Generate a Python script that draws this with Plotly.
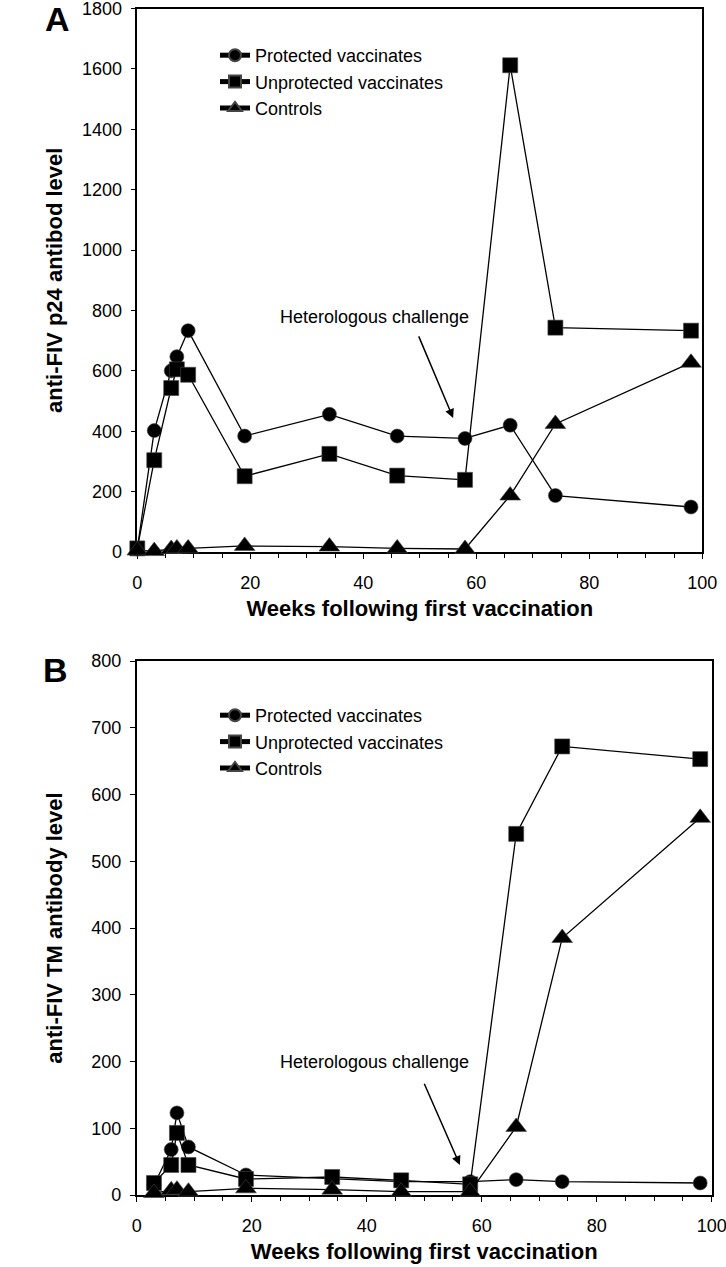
import plotly.graph_objects as go

# ---------------- data ----------------
weeks_a = [0, 3, 6, 7, 9, 19, 34, 46, 58, 66, 74, 98]
protected_a = [10, 402, 600, 647, 733, 384, 456, 384, 376, 420, 187, 149]
unprotected_a = [12, 304, 543, 605, 587, 251, 325, 253, 239, 1612, 743, 733]
controls_a = [5, 3, 10, 12, 12, 20, 18, 12, 10, 187, 424, 627]

weeks_b = [3, 6, 7, 9, 19, 34, 46, 58, 66, 74, 98]
protected_b = [15, 68, 123, 72, 30, 25, 20, 20, 23, 20, 18]
unprotected_b = [18, 45, 93, 45, 24, 27, 22, 16, 541, 672, 653]
controls_b = [3, 7, 8, 5, 10, 8, 5, 5, 102, 385, 565]

series_names = ["Protected vaccinates", "Unprotected vaccinates", "Controls"]
symbols = ["circle", "square", "triangle-up"]
sizes = [14, 15, 18]

x_ticks = [0, 20, 40, 60, 80, 100]
ya_ticks = list(range(0, 1801, 200))
yb_ticks = list(range(0, 801, 100))

# ---------------- layout helpers ----------------
W, H = 726, 1267
FONT = "Liberation Sans, Arial, sans-serif"


def fx(p):
    return p / W


def fy(p):
    return 1 - p / H


fig = go.Figure()

panels = [
    (weeks_a, [protected_a, unprotected_a, controls_a], "x", "y", "legend"),
    (weeks_b, [protected_b, unprotected_b, controls_b], "x2", "y2", "legend2"),
]
for weeks, vals, xr, yr, lg in panels:
    for name, sym, sz, v in zip(series_names, symbols, sizes, vals):
        fig.add_trace(go.Scatter(
            x=weeks, y=v, name=name, mode="lines+markers",
            xaxis=xr, yaxis=yr, legend=lg, cliponaxis=False,
            line=dict(color="black", width=1.3),
            marker=dict(symbol=sym, size=sz, color="black",
                        line=dict(color="#444", width=0.6)),
        ))

axis_common = dict(
    showline=True, linecolor="black", linewidth=1.5, mirror=True,
    ticks="outside", ticklen=5, tickcolor="black", tickwidth=1.3,
    showgrid=False, zeroline=False, layer="below traces", automargin=False,
    ticklabeloverflow="allow",
    tickfont=dict(family=FONT, size=18, color="black"),
)
xa_common = dict(axis_common, range=[0, 100], tickvals=x_ticks,
                 minor=dict(dtick=5, ticks="outside", ticklen=4,
                            tickcolor="black", tickwidth=1.2),
                 ticklabelstandoff=9)
xtitle = dict(text="<b>Weeks following first vaccination</b>",
              font=dict(family=FONT, size=22, color="black"), standoff=8)

fig.update_layout(
    width=W, height=H, margin=dict(l=0, r=0, t=0, b=0, autoexpand=False),
    paper_bgcolor="white", plot_bgcolor="white",
    font=dict(family=FONT, size=18, color="black"),
    xaxis=dict(xa_common, domain=[fx(137.3), fx(702.3)], anchor="y",
               title=xtitle),
    yaxis=dict(axis_common, domain=[fy(552), fy(8.5)], anchor="x",
               range=[0, 1800], tickvals=ya_ticks, ticklabelstandoff=5,
               title=dict(text="<b>anti-FIV p24 antibod level</b>",
                          font=dict(family=FONT, size=22, color="black"),
                          standoff=13)),
    xaxis2=dict(xa_common, domain=[fx(136.7), fx(711.7)], anchor="y2",
                title=xtitle),
    yaxis2=dict(axis_common, domain=[fy(1195), fy(661)], anchor="x2",
                range=[0, 800], tickvals=yb_ticks, ticklabelstandoff=5,
                title=dict(text="<b>anti-FIV TM antibody level</b>",
                           font=dict(family=FONT, size=22, color="black"),
                           standoff=23)),
    legend=dict(x=fx(215), y=fy(37), xanchor="left", yanchor="top",
                bgcolor="rgba(0,0,0,0)", borderwidth=0,
                font=dict(family=FONT, size=18, color="black"),
                itemsizing="constant", tracegroupgap=0),
    legend2=dict(x=fx(215), y=fy(697), xanchor="left", yanchor="top",
                 bgcolor="rgba(0,0,0,0)", borderwidth=0,
                 font=dict(family=FONT, size=18, color="black"),
                 itemsizing="constant", tracegroupgap=0),
    showlegend=True,
)

ann_font = dict(family=FONT, size=18, color="black")
# challenge annotations (text + arrow) in data coordinates
fig.add_annotation(x=41.9, y=778, xref="x", yref="y", text="Heterologous challenge",
                   showarrow=False, font=ann_font)
fig.add_annotation(x=55.9, y=444, ax=49.7, ay=719, xref="x", yref="y",
                   axref="x", ayref="y", text="", showarrow=True,
                   arrowhead=2, arrowsize=1.2, arrowwidth=1.5, arrowcolor="black")
fig.add_annotation(x=41.4, y=199, xref="x2", yref="y2", text="Heterologous challenge",
                   showarrow=False, font=ann_font)
fig.add_annotation(x=56.2, y=45, ax=49.9, ay=169, xref="x2", yref="y2",
                   axref="x2", ayref="y2", text="", showarrow=True,
                   arrowhead=2, arrowsize=1.2, arrowwidth=1.5, arrowcolor="black")

# panel letters
letter_font = dict(family=FONT, size=34, color="black")
fig.add_annotation(x=fx(57), y=fy(19), xref="paper", yref="paper", text="<b>A</b>",
                   xanchor="center", yanchor="middle", showarrow=False, font=letter_font)
fig.add_annotation(x=fx(55), y=fy(670), xref="paper", yref="paper", text="<b>B</b>",
                   xanchor="center", yanchor="middle", showarrow=False, font=letter_font)

fig.write_html("out.html",
               config={"displayModeBar": False},
               post_script="document.body.style.margin='0';")
